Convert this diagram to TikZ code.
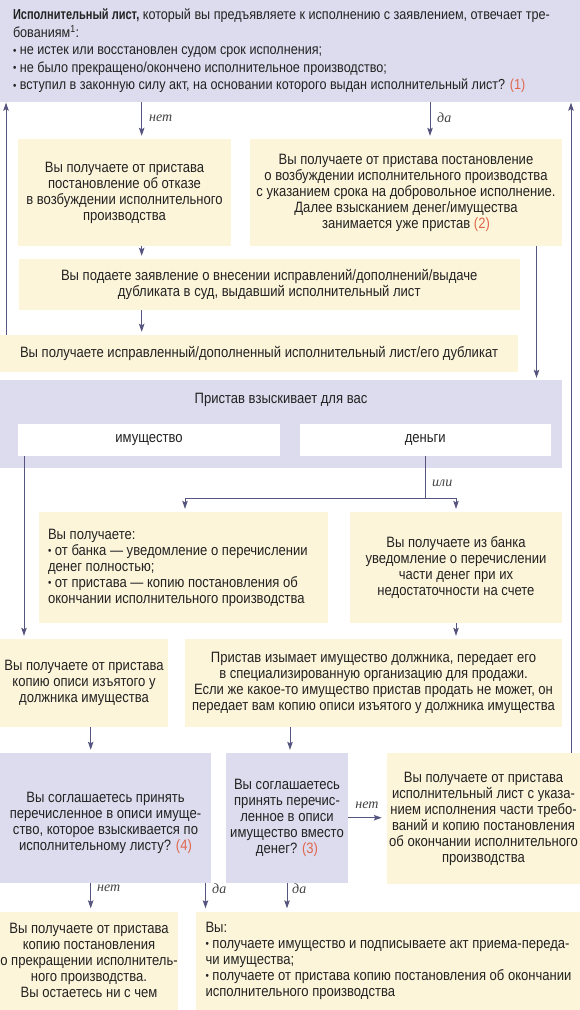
\documentclass[tikz,border=0pt]{standalone}
\usepackage{fontspec}
\setmainfont{Liberation Sans}[FakeStretch=0.87, BoldFeatures={FakeStretch=0.76}]
\newfontfamily\labfont{Liberation Serif}
\usetikzlibrary{arrows.meta}
\definecolor{lav}{HTML}{DCDCEE}
\definecolor{yel}{HTML}{FDF5DA}
\definecolor{linec}{HTML}{55557F}
\definecolor{num}{HTML}{E0664D}
\definecolor{txt}{HTML}{222222}
\newcommand\nm[1]{{\color{num}(#1)}}
\newcommand\bul{\raisebox{0.6pt}{\fontsize{11}{11}\selectfont•}}
\tikzset{
  box/.style={inner sep=0pt, align=center, font=\fontsize{15}{16}\selectfont, text=txt},
  ybox/.style={box, fill=yel},
  lbox/.style={box, fill=lav},
  wbox/.style={box, fill=white},
  conn/.style={draw=linec, line width=0.9pt},
  arr/.style={conn, -{Stealth[length=8pt,width=5.5pt,inset=1.5pt]}, shorten >=3pt},
  lab/.style={font=\labfont\itshape\fontsize{14}{14}\selectfont, text=txt!85, inner sep=0pt}
}
\begin{document}
\begin{tikzpicture}[x=1pt,y=-1pt]
\useasboundingbox (0,0) rectangle (580,1010);
\fill[white] (0,0) rectangle (580,1010);
% boxes
\node[lbox, minimum width=580, minimum height=102, text width=554, inner xsep=13, align=flush left,
  font=\fontsize{14.5}{17.5}\selectfont] (T) at (290,51)
  {\mbox{\textbf{Исполнительный лист,} который вы предъявляете к исполнению с заявлением, отвечает тре-}\\
   бованиям\textsuperscript{1}:\\
   \mbox{\bul{} не истек или восстановлен судом срок исполнения;}\\
   \mbox{\bul{} не было прекращено/окончено исполнительное производство;}\\
   \mbox{\bul{} вступил в законную силу акт, на основании которого выдан исполнительный лист? \nm{1}}};
\node[ybox, minimum width=213, minimum height=107] (A) at (124.5,192.5)
  {Вы получаете от пристава\\постановление об отказе\\в возбуждении исполнительного\\производства};
\node[ybox, minimum width=312, minimum height=107] (B) at (406,192.5)
  {Вы получаете от пристава постановление\\о возбуждении исполнительного производства\\с указанием срока на добровольное исполнение.\\Далее взысканием денег/имущества\\занимается уже пристав \nm{2}};
\node[ybox, minimum width=501.5, minimum height=51] (C) at (269.25,284.5)
  {Вы подаете заявление о внесении исправлений/дополнений/выдаче\\дубликата в суд, выдавший исполнительный лист};
\node[ybox, minimum width=518, minimum height=37] (D) at (259,353.5)
  {Вы получаете исправленный/дополненный исполнительный лист/его дубликат};
\node[lbox, minimum width=562, minimum height=88,
  label={[box, anchor=center, yshift=-19.6pt]north:Пристав взыскивает для вас}] (P) at (281,424) {};
\node[wbox, minimum width=262, minimum height=32.4] (im) at (149,439.8) {имущество};
\node[wbox, minimum width=250.5, minimum height=32.4] (den) at (425.25,439.8) {деньги};
\node[ybox, minimum width=288.5, minimum height=111, text width=270.5, inner xsep=9, align=flush left] (E) at (183.25,567.5)
  {Вы получаете:\\\mbox{\bul{} от банка — уведомление о перечислении}\\денег полностью;\\\mbox{\bul{} от пристава — копию постановления об}\\\mbox{окончании исполнительного производства}};
\node[ybox, minimum width=212, minimum height=111] (F) at (456,567.5)
  {Вы получаете из банка\\уведомление о перечислении\\части денег при их\\недостаточности на счете};
\node[ybox, minimum width=168, minimum height=88] (G) at (84,683)
  {Вы получаете от пристава\\копию описи изъятого у\\должника имущества};
\node[ybox, minimum width=377, minimum height=88] (H) at (373.5,683)
  {Пристав изымает имущество должника, передает его\\в специализированную организацию для продажи.\\Если же какое-то имущество пристав продать не может, он\\передает вам копию описи изъятого у должника имущества};
\node[lbox, minimum width=211, minimum height=129.6] (I) at (105.5,817.8)
  {\rule{0pt}{20pt}Вы соглашаетесь принять\\перечисленное в описи имуще-\\ство, которое взыскивается по\\исполнительному листу? \nm{4}};
\node[lbox, minimum width=122, minimum height=129.6] (J) at (287,817.8)
  {Вы соглашаетесь\\принять перечис-\\ленное в описи\\имущество вместо\\денег? \nm{3}};
\node[ybox, minimum width=193, minimum height=131] (N) at (483.5,818.5)
  {Вы получаете от пристава\\исполнительный лист с указа-\\нием исполнения части требо-\\ваний и копию постановления\\об окончании исполнительного\\производства};
\node[ybox, minimum width=178, minimum height=98.5] (K) at (89,960.75)
  {Вы получаете от пристава\\копию постановления\\о прекращении исполнитель-\\ного производства.\\Вы остаетесь ни с чем};
\node[ybox, minimum width=384, minimum height=98.5, text width=365, inner xsep=9.5, align=flush left] (L) at (388,960.75)
  {Вы:\\\mbox{\bul{} получаете имущество и подписываете акт приема-переда-}\\чи имущества;\\\mbox{\bul{} получаете от пристава копию постановления об окончании}\\исполнительного производства};
% columns
\coordinate (xa) at (141.7,0);
\coordinate (xb) at (430,0);
\coordinate (xl) at (6,0);
\coordinate (xr) at (536.5,0);
\coordinate (xrr) at (571,0);
\coordinate (xim) at (24,0);
\coordinate (xden) at (425,0);
\coordinate (xf) at (456,0);
\coordinate (xg) at (90.7,0);
\coordinate (xh) at (290,0);
\coordinate (xi) at (205.5,0);
\coordinate (xj) at (287,0);
\coordinate (sl) at (185,498);
\coordinate (sm) at (425,498);
\coordinate (sr) at (456,498);
% connectors
\draw[arr] (T.south -| xa) -- (A.north -| xa);
\node[lab, anchor=west] at (149,118) {нет};
\draw[arr] (T.south -| xb) -- (B.north -| xb);
\node[lab, anchor=west] at (437,118) {да};
\draw[arr] (A.south -| xa) -- (C.north -| xa);
\draw[arr] (C.south -| xa) -- (D.north -| xa);
\draw[arr, shorten >=0.5pt] (D.north -| xl) -- (T.south -| xl);
\draw[arr, shorten >=2pt] (B.south -| xr) -- (P.north -| xr);
\draw[arr, shorten >=0.5pt] (N.north -| xrr) -- (T.south -| xrr);
\draw[arr] (im.south -| xim) -- (G.north -| xim);
\draw[conn] (den.south -| xden) -- (sm);
\draw[conn] (sl) -- (sr);
\node[lab, anchor=west] at (432,483) {или};
\draw[arr] (sl) -- (E.north -| sl);
\draw[arr] (sr) -- (F.north -| sr);
\draw[arr] (F.south -| xf) -- (H.north -| xf);
\draw[arr] (G.south -| xg) -- (I.north -| xg);
\draw[arr] (H.south -| xh) -- (J.north -| xh);
\draw[arr, shorten >=5pt] (J.east |- 0,817.7) -- (N.west |- 0,817.7);
\node[lab] at (367,805) {нет};
\draw[arr] (I.south -| xg) -- (K.north -| xg);
\node[lab, anchor=west] at (97,888.5) {нет};
\draw[arr] (I.south -| xi) -- (L.north -| xi);
\node[lab, anchor=west] at (212,888.5) {да};
\draw[arr] (J.south -| xj) -- (L.north -| xj);
\node[lab, anchor=west] at (292,888.5) {да};
\end{tikzpicture}
\end{document}
